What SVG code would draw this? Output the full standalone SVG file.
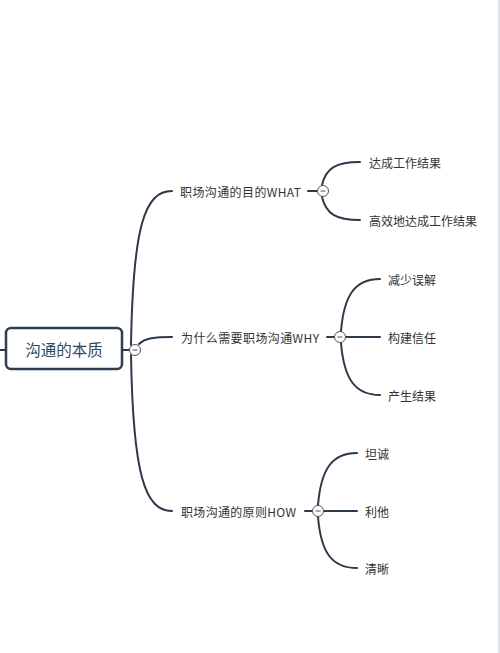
<svg xmlns="http://www.w3.org/2000/svg" width="500" height="653" viewBox="0 0 500 653">
<style>
.ln{fill:none;stroke:#2c3a4a;stroke-width:2;stroke-linecap:round}
.lbl{font-family:"Noto Sans CJK SC","Noto Sans",sans-serif;font-size:12px;fill:#333;dominant-baseline:central}
.root{font-family:"Noto Sans CJK SC","Noto Sans",sans-serif;font-size:15.5px;fill:#2b4a6a;dominant-baseline:central;text-anchor:middle}
.tog{fill:#fff;stroke:#555;stroke-width:1}
.tm{stroke:#555;stroke-width:1}
</style>
<rect x="0" y="0" width="500" height="653" fill="#fff"/>
<rect x="498" y="0" width="2" height="653" fill="#dce2e7"/>
<g id="connectors">
<path class="ln" d="M0,350 H6"/>
<path class="ln" d="M122,350 H129"/>
<path class="ln" d="M131,345 C133,225 145,191 172,191"/>
<path class="ln" d="M139,344 C145,338 155,337 172,337"/>
<path class="ln" d="M131,355 C133,475 145,511 172,511"/>
<path class="ln" d="M308,191 H317"/>
<path class="ln" d="M322,185 C326,168 336,162 360,162"/>
<path class="ln" d="M322,197 C326,214 336,220 360,220"/>
<path class="ln" d="M327,337 H334"/>
<path class="ln" d="M341,331 C344,295 355,279 380,279"/>
<path class="ln" d="M346,337 H380"/>
<path class="ln" d="M341,343 C344,379 355,395 380,395"/>
<path class="ln" d="M305,511 H312"/>
<path class="ln" d="M318,505 C321,469 332,453 357,453"/>
<path class="ln" d="M324,511 H357"/>
<path class="ln" d="M318,517 C321,553 332,568 357,568"/>
</g>
<g id="root">
<rect x="6" y="328" width="116" height="41" rx="5" fill="#fff" stroke="#2c3e50" stroke-width="2.5"/>
<text class="root" x="64" y="349">沟通的本质</text>
<circle class="tog" cx="135" cy="350" r="5.5"/><path class="tm" d="M132.5,350 H137.5"/>
</g>
<g id="what">
<text class="lbl" x="180" y="191" textLength="121" lengthAdjust="spacing">职场沟通的目的WHAT</text>
<circle class="tog" cx="323" cy="191" r="5.5"/><path class="tm" d="M320.5,191 H325.5"/>
</g>
<g id="what1"><text class="lbl" x="369" y="162">达成工作结果</text></g>
<g id="what2"><text class="lbl" x="369" y="220">高效地达成工作结果</text></g>
<g id="why">
<text class="lbl" x="181" y="337" textLength="138" lengthAdjust="spacing">为什么需要职场沟通WHY</text>
<circle class="tog" cx="340" cy="337" r="5.5"/><path class="tm" d="M337.5,337 H342.5"/>
</g>
<g id="why1"><text class="lbl" x="388" y="279">减少误解</text></g>
<g id="why2"><text class="lbl" x="388" y="337">构建信任</text></g>
<g id="why3"><text class="lbl" x="388" y="395">产生结果</text></g>
<g id="how">
<text class="lbl" x="181" y="511" textLength="115" lengthAdjust="spacing">职场沟通的原则HOW</text>
<circle class="tog" cx="318" cy="511" r="5.5"/><path class="tm" d="M315.5,511 H320.5"/>
</g>
<g id="how1"><text class="lbl" x="365" y="453">坦诚</text></g>
<g id="how2"><text class="lbl" x="365" y="511">利他</text></g>
<g id="how3"><text class="lbl" x="365" y="568">清晰</text></g>
</svg>
